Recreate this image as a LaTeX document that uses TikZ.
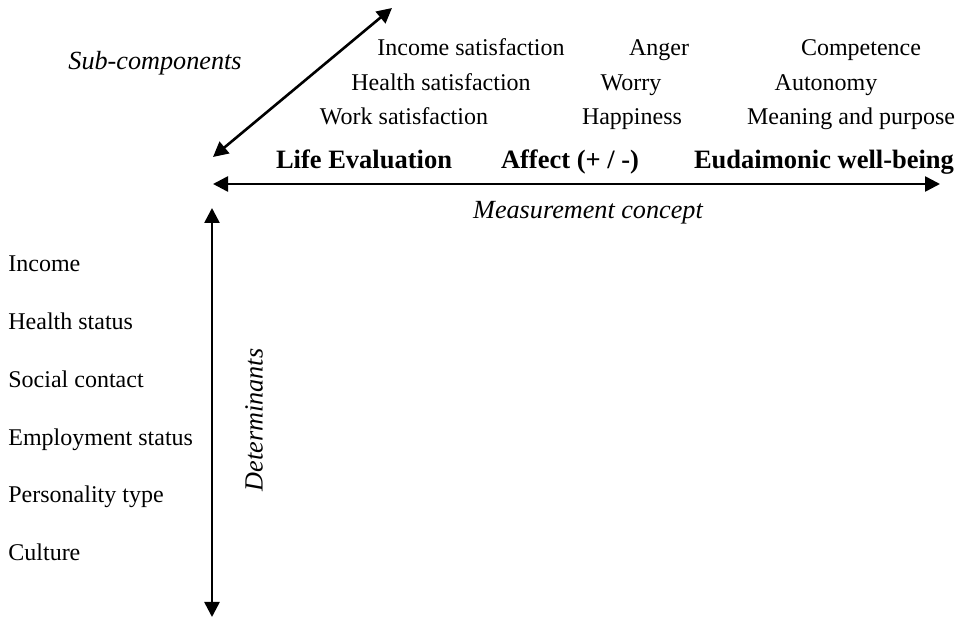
\documentclass[tikz,border=0pt]{standalone}
\usepackage{fontspec}
\setmainfont{Liberation Serif}
\usetikzlibrary{arrows.meta}
\begin{document}
\begin{tikzpicture}[x=0.5pt,y=-0.5pt,
  axis/.style={line width=1.3pt,{Triangle[length=7.5pt,width=7.5pt]}-{Triangle[length=7.5pt,width=7.5pt]}},
  item/.style={inner sep=0pt,anchor=base,font=\fontsize{12}{14}\selectfont},
  head/.style={inner sep=0pt,anchor=base,font=\fontsize{13.25}{15}\selectfont\bfseries},
  axlabel/.style={inner sep=0pt,anchor=base,font=\fontsize{13.1}{15}\selectfont\itshape},
  det/.style={item,anchor=base west}]
\useasboundingbox (0,0) rectangle (964,619);
% axes
\coordinate (dA) at (213,157);
\coordinate (dB) at (392,8);
\coordinate (hA) at (213,184);
\coordinate (hB) at (940,184);
\coordinate (vA) at (212,208);
\coordinate (vB) at (212,617);
\draw[axis] (dA) -- (dB);
\draw[axis] (hA) -- (hB);
\draw[axis] (vA) -- (vB);
% axis labels
\node[axlabel] (sub) at (155,70) {Sub-components};
\node[axlabel] (meas) at (588,219) {Measurement concept};
\node[axlabel,anchor=center,rotate=90] (dets) at (254,420) {Determinants};
% headings
\node[head] (le) at (364,169) {Life Evaluation};
\node[head] (af) at (570,169) {Affect (+ / -)};
\node[head] (eu) at (824,169) {Eudaimonic well-being};
% sub-components
\node[item] (is) at (471,56) {Income satisfaction};
\node[item] (hs) at (441,91) {Health satisfaction};
\node[item] (ws) at (404,125) {Work satisfaction};
\node[item] (an) at (659,56) {Anger};
\node[item] (wo) at (631,91) {Worry};
\node[item] (ha) at (632,125) {Happiness};
\node[item] (co) at (861,56) {Competence};
\node[item] (au) at (826,91) {Autonomy};
\node[item] (mp) at (851,125) {Meaning and purpose};
% determinants
\node[det] (inc) at (8,272) {Income};
\node[det] (hst) at (8,330) {Health status};
\node[det] (soc) at (8,388) {Social contact};
\node[det] (emp) at (8,446) {Employment status};
\node[det] (per) at (8,503) {Personality type};
\node[det] (cul) at (8,561) {Culture};
\end{tikzpicture}
\end{document}
